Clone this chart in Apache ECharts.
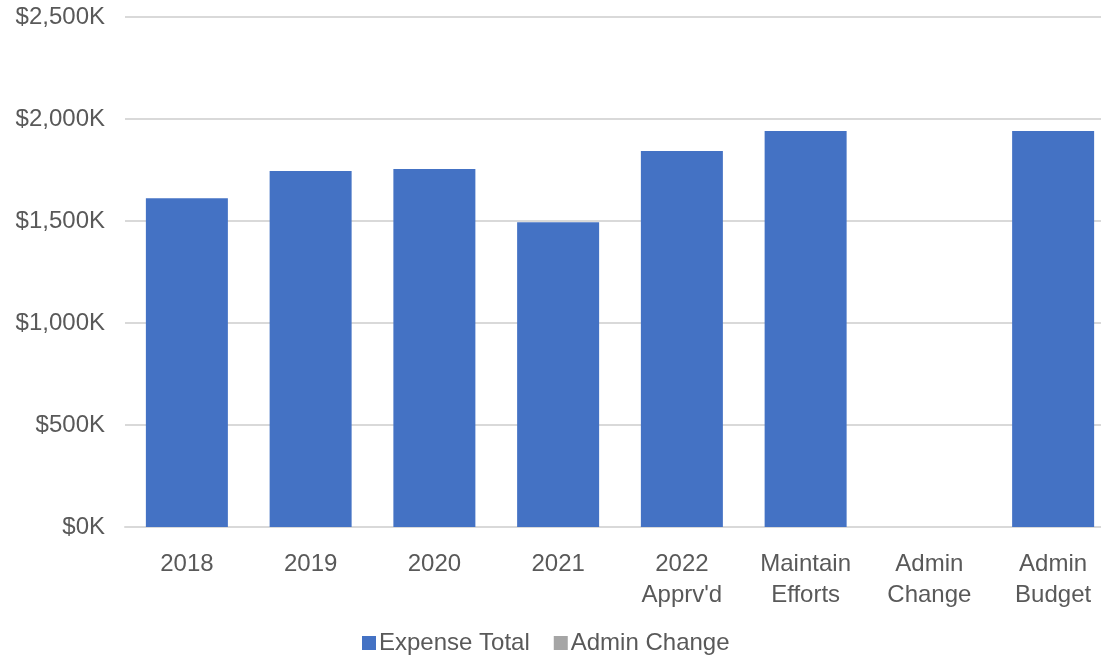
<!DOCTYPE html>
<html>
<head>
<meta charset="utf-8">
<script src="https://cdn.jsdelivr.net/npm/echarts@6/dist/echarts.min.js"></script>
<style>
html,body{margin:0;padding:0;background:#fff;overflow:hidden;}
#chart{width:1120px;height:660px;}
</style>
</head>
<body>
<div id="chart"></div>
<script>
var categories = ["2018", "2019", "2020", "2021", "2022\nApprv'd", "Maintain\nEfforts", "Admin\nChange", "Admin\nBudget"];
var expenseTotal = [1611, 1745, 1755, 1494, 1843, 1941, null, 1941];
var adminChange = [null, null, null, null, null, null, 0, null];
var yTicks = [0, 500, 1000, 1500, 2000, 2500];

var chart = echarts.init(document.getElementById('chart'), null, {renderer: 'canvas'});
var font = '"Liberation Sans", Arial, sans-serif';
chart.setOption({
  animation: false,
  backgroundColor: '#ffffff',
  grid: {left: 125, top: 17, width: 990, height: 510, containLabel: false},
  legend: {
    data: ['Expense Total', 'Admin Change'],
    bottom: 0,
    left: 357,
    itemWidth: 14,
    itemHeight: 14,
    itemGap: 24,
    icon: 'rect',
    textStyle: {fontFamily: font, fontSize: 24, color: '#595959', padding: [0, 0, 0, -2]}
  },
  xAxis: {
    type: 'category',
    data: categories,
    axisLine: {show: true, lineStyle: {color: '#d9d9d9', width: 2}},
    axisTick: {show: false},
    axisLabel: {fontFamily: font, fontSize: 24, color: '#595959', lineHeight: 31, margin: 22, interval: 0}
  },
  yAxis: {
    type: 'value',
    min: yTicks[0],
    max: yTicks[yTicks.length - 1],
    interval: 500,
    axisLine: {show: false},
    axisTick: {show: false},
    splitLine: {lineStyle: {color: '#d9d9d9', width: 2}},
    axisLabel: {
      fontFamily: font, fontSize: 24, color: '#595959', margin: 20,
      formatter: function (v) { return '$' + v.toLocaleString('en-US') + 'K'; }
    }
  },
  series: [
    {
      name: 'Expense Total', type: 'bar', stack: 'total', data: expenseTotal,
      barWidth: 82, itemStyle: {color: '#4472c4'}
    },
    {
      name: 'Admin Change', type: 'bar', stack: 'total', data: adminChange,
      barWidth: 82, itemStyle: {color: '#a5a5a5'}
    }
  ]
});
</script>
</body>
</html>
